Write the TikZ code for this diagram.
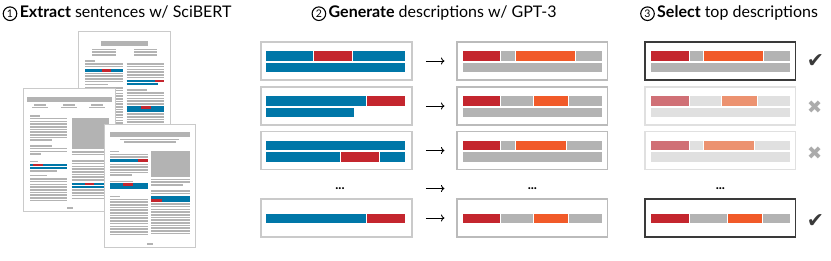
\documentclass[tikz,border=0pt]{standalone}
\usepackage{fontspec}
\setmainfont{Lato}
\newfontfamily\symfont{DejaVu Sans}
\usetikzlibrary{arrows.meta,calc,positioning}
\definecolor{sbblue}{HTML}{0077A8}
\definecolor{sbred}{HTML}{C4262E}
\definecolor{sborange}{HTML}{F15A29}
\definecolor{sbgray}{HTML}{B3B3B3}
\definecolor{fadered}{HTML}{D07076}
\definecolor{fadeorange}{HTML}{EC9270}
\definecolor{fadegray}{HTML}{E0E0E0}
\definecolor{txtgray}{HTML}{B3B3B3}
\definecolor{pageedge}{HTML}{CACACA}
\definecolor{checkgray}{HTML}{3A3A3A}
\definecolor{crossgray}{HTML}{ABABAB}
\tikzset{
  page/.style={draw=pageedge,fill=white,line width=0.8pt},
  pline/.style={draw=txtgray,line width=1.6pt},
  hline/.style={line width=2.6pt},
  descbox/.style={minimum width=150.7pt,minimum height=38pt,inner sep=0pt},
  lbox/.style={descbox,draw=pageedge,line width=1.8pt},
  rbox/.style={descbox,draw=sbgray!90,line width=1.1pt},
  keepbox/.style={descbox,draw=checkgray,line width=1.3pt},
  dropbox/.style={descbox,draw=fadegray,line width=1.1pt},
  numcirc/.style={draw,circle,line width=1.1pt,minimum size=13.6pt,inner sep=0pt,font=\fontsize{10.5}{10.5}\selectfont},
  title/.style={anchor=base west,inner sep=0pt,font=\fontsize{16}{18}\selectfont},
  arr/.style={-{To[length=3.5pt,width=7pt]},line width=0.9pt,shorten <=13.3pt,shorten >=12pt},
  dots/.style={inner sep=0pt,font=\fontsize{13}{13}\selectfont\bfseries},
  check/.style={inner sep=0pt,text=checkgray,font=\symfont\fontsize{20.5}{20.5}\selectfont},
  cross/.style={inner sep=0pt,text=crossgray,font=\symfont\fontsize{18}{18}\selectfont}
}
\newcommand{\plines}[4]{\foreach \k in {1,...,#4}{\draw[pline] (#1,{#3+(\k-1)*2.7}) -- (#2,{#3+(\k-1)*2.7});}}
\newcommand{\hlseg}[4]{\draw[hline,#4] (#1,#3) -- (#2,#3);}
\newcommand{\barseg}[4]{\filldraw[fill=#4,draw=white,line width=0.5pt] (#1,#3) rectangle (#2,#3+10.3);}

\begin{document}
\begin{tikzpicture}[x={(1pt,0)},y={(0,-1pt)}]
  \useasboundingbox (0,0) rectangle (831,261);

  % titles
  \node[numcirc] (n1) at (10,13.7) {1};
  \node[title] (t1) at (19.6,17.8) {\textbf{Extract} sentences w/ SciBERT};
  \node[numcirc] (n2) at (318.9,13.7) {2};
  \node[title] (t2) at (328.5,17.8) {\textbf{Generate} descriptions w/ GPT-3};
  \node[numcirc] (n3) at (647.5,13.7) {3};
  \node[title] (t3) at (657,17.8) {\textbf{Select} top descriptions};

  % paper A
  \draw[page] (78,31.5) rectangle (170.5,156);
  \fill[txtgray] (101,41.3) rectangle (148.3,45.7);
  \plines{92.3}{115.7}{49.5}{3}
  \plines{134.3}{156.7}{49.5}{3}
  \plines{85}{95}{61.3}{1}
  \plines{85}{123.3}{64}{2}
  \hlseg{85}{102}{70.3}{sbblue}\hlseg{102}{111}{70.3}{sbred}\hlseg{111}{123.3}{70.3}{sbblue}
  \plines{85}{123.3}{73.6}{4}
  \plines{85}{108}{84.4}{1}
  \plines{85}{123.3}{88}{24}
  \plines{126.7}{164.3}{64}{6}
  \hlseg{126.7}{155}{81}{sbblue}\hlseg{155}{164.3}{81}{sbred}
  \hlseg{126.7}{158}{84}{sbblue}
  \plines{126.7}{147}{90.3}{1}
  \plines{126.7}{164.3}{93}{5}
  \hlseg{126.7}{141}{107.6}{sbblue}\hlseg{141}{151}{107.6}{sbred}\hlseg{151}{164.3}{107.6}{sbblue}
  \hlseg{126.7}{164.3}{110.6}{sbblue}
  \plines{126.7}{164.3}{114.2}{14}

  % paper B
  \draw[page] (23.3,88.3) rectangle (115.7,211.7);
  \fill[txtgray] (27.3,97.3) rectangle (111.7,102);
  \foreach \c in {40,69.3,97.3}{
    \draw[pline] (\c-6,105) -- (\c+6,105);
    \draw[pline] (\c-8,107.7) -- (\c+8,107.7);
  }
  \plines{30}{40}{116}{1}
  \plines{30}{67.3}{118.7}{8}
  \plines{30}{51.7}{140.3}{1}
  \plines{30}{52}{146}{1}
  \plines{30}{67.3}{148.7}{2}
  \plines{30}{41}{154.1}{1}
  \plines{30}{38}{161.7}{1}
  \hlseg{30}{33.3}{165}{sbblue}\hlseg{33.3}{43.3}{165}{sbred}\hlseg{43.3}{67.3}{165}{sbblue}
  \hlseg{30}{67.3}{168}{sbblue}
  \plines{30}{56.7}{171.3}{1}
  \plines{30}{46.7}{175.7}{1}
  \plines{30}{67.3}{179}{9}
  \fill[txtgray] (71.7,118.3) rectangle (109.3,149.3);
  \plines{71.7}{109.3}{151.9}{2}
  \plines{71.7}{109.3}{161}{8}
  \hlseg{71.7}{85}{183.9}{sbblue}\hlseg{85}{94}{183.9}{sbred}\hlseg{94}{109.3}{183.9}{sbblue}
  \hlseg{71.7}{109.3}{186.9}{sbblue}
  \plines{71.7}{109.3}{190.3}{4}
  \fill[txtgray] (66.7,207.5) rectangle (73.3,209.3);

  % paper C
  \draw[page] (104,124) rectangle (195.7,247.3);
  \fill[txtgray] (110,131.7) rectangle (190,136.7);
  \plines{120}{179.3}{139.5}{1}
  \plines{124}{176}{142.2}{1}
  \plines{110}{119.3}{151.7}{1}
  \plines{110}{148.3}{154.4}{2}
  \hlseg{110}{138.3}{160.8}{sbblue}\hlseg{138.3}{148.3}{160.8}{sbred}
  \plines{110}{148.3}{164.4}{4}
  \plines{110}{132.3}{175.2}{1}
  \plines{110}{133.3}{181.7}{1}
  \hlseg{110}{123.3}{184.7}{sbblue}\hlseg{123.3}{132.7}{184.7}{sbred}\hlseg{132.7}{148.3}{184.7}{sbblue}
  \hlseg{110}{148.3}{187.7}{sbblue}
  \plines{110}{120}{196.7}{1}
  \plines{110}{148.3}{199.4}{14}
  \fill[txtgray] (151,151) rectangle (190,177.3);
  \plines{151}{190}{179.5}{2}
  \plines{151}{183.3}{185.2}{1}
  \plines{151}{190}{191}{2}
  \hlseg{151}{190}{197.4}{sbblue}
  \hlseg{151}{161.7}{200.4}{sbred}\hlseg{161.7}{190}{200.4}{sbblue}
  \plines{151}{190}{204}{12}
  \fill[txtgray] (147.3,243.3) rectangle (153.3,245);

  % sentences
  \node[lbox] (L1) at (336.35,61) {};
  \node[lbox] (L2) at (336.35,106) {};
  \node[lbox] (L3) at (336.35,150.5) {};
  \node[lbox] (L4) at (336.35,218) {};
  \barseg{265}{313.3}{50.5}{sbblue}\barseg{313.3}{352.3}{50.5}{sbred}\barseg{352.3}{405}{50.5}{sbblue}
  \barseg{265}{405}{62}{sbblue}
  \barseg{265}{366.3}{95.5}{sbblue}\barseg{366.3}{405}{95.5}{sbred}
  \barseg{265}{354.3}{107}{sbblue}
  \barseg{265}{405}{140}{sbblue}
  \barseg{265}{340.3}{151.5}{sbblue}\barseg{340.3}{379.3}{151.5}{sbred}\barseg{379.3}{405}{151.5}{sbblue}
  \barseg{265}{366}{213.2}{sbblue}\barseg{366}{405}{213.2}{sbred}

  % descriptions
  \node[rbox] (R1) at (532.35,61) {};
  \node[rbox] (R2) at (532.35,106) {};
  \node[rbox] (R3) at (532.35,150.5) {};
  \node[rbox] (R4) at (532.35,218) {};
  \barseg{462}{500.7}{50.5}{sbred}\barseg{500.7}{515.7}{50.5}{sbgray}\barseg{515.7}{575}{50.5}{sborange}\barseg{575}{602}{50.5}{sbgray}
  \barseg{462}{602}{62}{sbgray}
  \barseg{462}{500.7}{95.5}{sbred}\barseg{500.7}{533.3}{95.5}{sbgray}\barseg{533.3}{568.3}{95.5}{sborange}\barseg{568.3}{602}{95.5}{sbgray}
  \barseg{462}{602}{107}{sbgray}
  \barseg{462}{500.7}{140}{sbred}\barseg{500.7}{515.7}{140}{sbgray}\barseg{515.7}{566}{140}{sborange}\barseg{566}{602}{140}{sbgray}
  \barseg{462}{602}{151.5}{sbgray}
  \barseg{462}{500.7}{213.2}{sbred}\barseg{500.7}{533.3}{213.2}{sbgray}\barseg{533.3}{568.3}{213.2}{sborange}\barseg{568.3}{602}{213.2}{sbgray}

  % selection
  \node[keepbox] (S1) at (720.35,61) {};
  \node[dropbox] (S2) at (720.35,106) {};
  \node[dropbox] (S3) at (720.35,150.5) {};
  \node[keepbox] (S4) at (720.35,218) {};
  \barseg{650}{689}{50.5}{sbred}\barseg{689}{703.3}{50.5}{sbgray}\barseg{703.3}{763.3}{50.5}{sborange}\barseg{763.3}{790}{50.5}{sbgray}
  \barseg{650}{790}{62}{sbgray}
  \barseg{650}{689}{95.5}{fadered}\barseg{689}{721.7}{95.5}{fadegray}\barseg{721.7}{757}{95.5}{fadeorange}\barseg{757}{790}{95.5}{fadegray}
  \barseg{650}{790}{107}{fadegray}
  \barseg{650}{689}{140}{fadered}\barseg{689}{703.3}{140}{fadegray}\barseg{703.3}{754.3}{140}{fadeorange}\barseg{754.3}{790}{140}{fadegray}
  \barseg{650}{790}{151.5}{fadegray}
  \barseg{650}{689}{213.2}{sbred}\barseg{689}{727.3}{213.2}{sbgray}\barseg{727.3}{762.3}{213.2}{sborange}\barseg{762.3}{790}{213.2}{sbgray}

  \node[dots] (dL) at (340,188.5) {...};
  \node[dots] (dR) at (532.4,188.5) {...};
  \node[dots] (dS) at (720.4,188.5) {...};

  \foreach \i in {1,...,4} \draw[arr] (L\i.east) -- (R\i.west);
  \draw[arr] (dL -| L1.east) -- (dR -| R1.west);

  \node[check] (k1) at (815.5,61.3) {✔};
  \node[cross] (x2) at (814.7,107.2) {✖};
  \node[cross] (x3) at (814.7,153) {✖};
  \node[check] (k4) at (815.5,221) {✔};
\end{tikzpicture}
\end{document}
